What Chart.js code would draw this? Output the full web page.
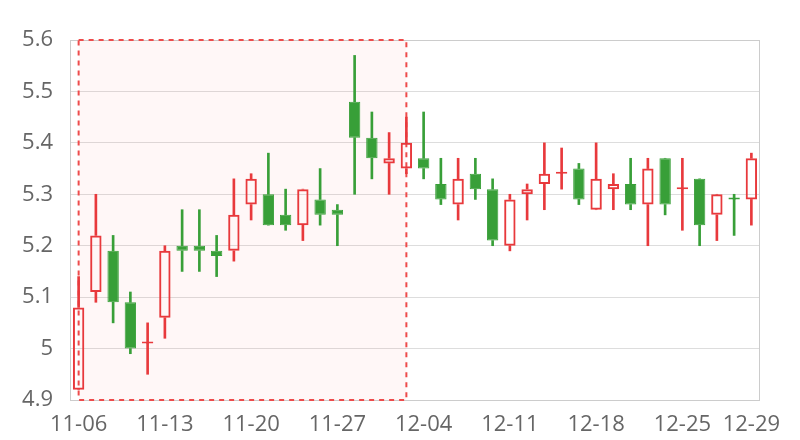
<!DOCTYPE html>
<html>
<head>
<meta charset="utf-8">
<script src="https://cdn.jsdelivr.net/npm/chart.js@4.4.1/dist/chart.umd.min.js"></script>
<style>
    html, body { margin: 0; padding: 0; background: #ffffff; }
    #wrap { width: 800px; height: 440px; }
</style>
</head>
<body>
<div id="wrap"><canvas id="chart" width="800" height="440"></canvas></div>
<script>
// Trading days
const dates = [
    '11-06', '11-07', '11-08', '11-09', '11-10',
    '11-13', '11-14', '11-15', '11-16', '11-17',
    '11-20', '11-21', '11-22', '11-23', '11-24',
    '11-27', '11-28', '11-29', '11-30', '12-01',
    '12-04', '12-05', '12-06', '12-07', '12-08',
    '12-11', '12-12', '12-13', '12-14', '12-15',
    '12-18', '12-19', '12-20', '12-21', '12-22',
    '12-25', '12-26', '12-27', '12-28', '12-29'
];

// OHLC values
const opens = [
    4.92, 5.11, 5.19, 5.09, 5.01, 5.06, 5.20, 5.20, 5.19, 5.19,
    5.28, 5.30, 5.26, 5.24, 5.29, 5.27, 5.48, 5.41, 5.36, 5.35,
    5.37, 5.32, 5.28, 5.34, 5.31, 5.20, 5.30, 5.32, 5.34, 5.35,
    5.27, 5.31, 5.32, 5.28, 5.37, 5.31, 5.33, 5.26, 5.29, 5.29
];
const closes = [
    5.08, 5.22, 5.09, 5.00, 5.01, 5.19, 5.19, 5.19, 5.18, 5.26,
    5.33, 5.24, 5.24, 5.31, 5.26, 5.26, 5.41, 5.37, 5.37, 5.40,
    5.35, 5.29, 5.33, 5.31, 5.21, 5.29, 5.31, 5.34, 5.34, 5.29,
    5.33, 5.32, 5.28, 5.35, 5.28, 5.31, 5.24, 5.30, 5.29, 5.37
];
const highs = [
    5.14, 5.30, 5.22, 5.11, 5.05, 5.20, 5.27, 5.27, 5.22, 5.33,
    5.34, 5.38, 5.31, 5.31, 5.35, 5.28, 5.57, 5.46, 5.42, 5.45,
    5.46, 5.37, 5.37, 5.37, 5.33, 5.30, 5.32, 5.40, 5.39, 5.36,
    5.40, 5.34, 5.37, 5.37, 5.37, 5.37, 5.33, 5.30, 5.30, 5.38
];
const lows = [
    4.92, 5.09, 5.05, 4.99, 4.95, 5.02, 5.15, 5.15, 5.14, 5.17,
    5.25, 5.24, 5.23, 5.21, 5.24, 5.20, 5.30, 5.33, 5.30, 5.34,
    5.33, 5.28, 5.25, 5.29, 5.20, 5.19, 5.25, 5.27, 5.31, 5.28,
    5.27, 5.27, 5.27, 5.20, 5.26, 5.23, 5.20, 5.21, 5.22, 5.24
];

// Axis labels shown on the x axis
const shownDates = ['11-06', '11-13', '11-20', '11-27', '12-04', '12-11', '12-18', '12-25', '12-29'];

// Highlighted range
const markStart = '11-06';
const markEnd = '12-01';

const UP = '#e8393c';
const DOWN = '#389f38';
const FONT = '"Open Sans", "Noto Sans", sans-serif';

// up/down sign, equal open/close compares with previous close
const isUp = opens.map((o, i) => {
    if (closes[i] > o) return true;
    if (closes[i] < o) return false;
    return i > 0 ? closes[i - 1] <= closes[i] : true;
});
const candleColors = isUp.map(u => u ? UP : DOWN);

const bodyData = opens.map((o, i) => [Math.min(o, closes[i]), Math.max(o, closes[i])]);
const upperWick = opens.map((o, i) => [Math.max(o, closes[i]), highs[i]]);
const lowerWick = opens.map((o, i) => [lows[i], Math.min(o, closes[i])]);

// Shaded area + outer frame
const markAreaPlugin = {
    id: 'markArea',
    beforeDatasetsDraw(chart) {
        const { ctx, chartArea: a, scales: { x, y } } = chart;
        const x0 = x.getPixelForValue(dates.indexOf(markStart));
        const x1 = x.getPixelForValue(dates.indexOf(markEnd));
        const y0 = y.getPixelForValue(y.max);
        const y1 = y.getPixelForValue(y.min);
        ctx.save();
        ctx.strokeStyle = '#cccccc';
        ctx.lineWidth = 1;
        ctx.strokeRect(a.left + 0.5, a.top + 0.5, a.right - a.left - 1, a.bottom - a.top);
        ctx.fillStyle = 'rgba(255, 0, 0, 0.03)';
        ctx.fillRect(x0, y0, x1 - x0, y1 - y0);
        ctx.strokeStyle = '#ee4b4b';
        ctx.lineWidth = 2;
        ctx.setLineDash([5, 5]);
        ctx.strokeRect(x0, y0, x1 - x0, y1 - y0);
        ctx.restore();
    }
};

const wickBase = {
    type: 'bar',
    grouped: false,
    barThickness: 2,
    borderWidth: 0,
    backgroundColor: candleColors
};

new Chart(document.getElementById('chart').getContext('2d'), {
    type: 'bar',
    data: {
        labels: dates,
        datasets: [
            { ...wickBase, label: 'upper', data: upperWick },
            { ...wickBase, label: 'lower', data: lowerWick },
            {
                label: 'body',
                data: bodyData,
                grouped: false,
                barPercentage: 0.66,
                categoryPercentage: 1,
                minBarLength: 2,
                borderSkipped: false,
                borderWidth: isUp.map(u => u ? 2 : 1),
                borderColor: candleColors,
                backgroundColor: isUp.map(u => u ? 'rgba(0,0,0,0)' : DOWN)
            }
        ]
    },
    options: {
        responsive: false,
        animation: false,
        layout: { padding: { top: 40, right: 40, left: 0, bottom: 0 } },
        plugins: {
            legend: { display: false },
            tooltip: { enabled: false }
        },
        scales: {
            x: {
                grid: { display: false, drawTicks: false },
                border: { display: false },
                ticks: {
                    autoSkip: false,
                    maxRotation: 0,
                    padding: 12,
                    color: '#666666',
                    font: { family: FONT, size: 22 },
                    callback: function (val) {
                        const lab = this.getLabelForValue(val);
                        return shownDates.includes(lab) ? lab : '';
                    }
                },
                afterFit: (scale) => { scale.height = 40; }
            },
            y: {
                min: 4.9,
                max: 5.6,
                grid: { color: '#dddddd', drawTicks: false },
                border: { display: false },
                ticks: {
                    stepSize: 0.1,
                    padding: 17,
                    color: '#666666',
                    font: { family: FONT, size: 22 },
                    callback: (v) => String(parseFloat(v.toFixed(2)))
                },
                afterFit: (scale) => { scale.width = 70; }
            }
        }
    },
    plugins: [markAreaPlugin]
});
</script>
</body>
</html>
